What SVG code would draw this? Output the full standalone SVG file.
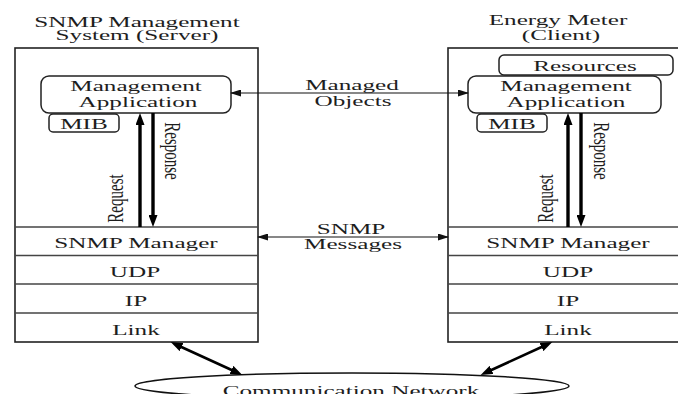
<svg xmlns="http://www.w3.org/2000/svg" width="678" height="394" viewBox="0 0 678 394">
  <defs>
    <style>
      .t { font-family: "Liberation Serif", "Times New Roman", serif; font-size: 15px; fill: #1e1e1e; text-anchor: middle; }
      .frame { fill: none; stroke: #222; stroke-width: 1.6; }
      .sep { stroke: #444; stroke-width: 1.4; }
      .rbox { fill: #fff; stroke: #222; stroke-width: 1.5; }
      .thin { stroke: #111; stroke-width: 1.1; fill: none; }
      .thick { stroke: #000; stroke-width: 3.4; fill: none; }
      .net { stroke: #000; stroke-width: 2.6; fill: none; }
    </style>
    <marker id="headThin" markerUnits="userSpaceOnUse" viewBox="0 0 11 7" markerWidth="11" markerHeight="7" refX="10" refY="3.5" orient="auto-start-reverse">
      <path d="M0,0 L11,3.5 L0,7 z" fill="#111"/>
    </marker>
    <marker id="headThick" markerUnits="userSpaceOnUse" viewBox="0 0 12 9" markerWidth="12" markerHeight="9" refX="6" refY="4.5" orient="auto-start-reverse">
      <path d="M0,0 L12,4.5 L0,9 z" fill="#000"/>
    </marker>
    <marker id="headNet" markerUnits="userSpaceOnUse" viewBox="0 0 12 9" markerWidth="12" markerHeight="9" refX="5" refY="4.5" orient="auto-start-reverse">
      <path d="M0,0 L12,4.5 L0,9 z" fill="#000"/>
    </marker>
  </defs>
  <rect width="678" height="394" fill="#fff"/>

  <!-- Server side: title and protocol stack -->
  <g id="server">
    <text class="t" transform="translate(137,27) scale(1.68,1)">SNMP Management</text>
    <text class="t" transform="translate(137,40) scale(1.68,1)">System (Server)</text>
    <rect class="frame" x="15" y="48" width="243" height="294"/>
    <line class="sep" x1="15" y1="227" x2="258" y2="227"/>
    <line class="sep" x1="15" y1="255.5" x2="258" y2="255.5"/>
    <line class="sep" x1="15" y1="284" x2="258" y2="284"/>
    <line class="sep" x1="15" y1="313" x2="258" y2="313"/>
  </g>
  <g id="server-app">
    <rect class="rbox" x="41" y="76" width="190" height="37" rx="8"/>
    <text class="t" transform="translate(136,91) scale(1.68,1)">Management</text>
    <text class="t" transform="translate(138,107) scale(1.68,1)">Application</text>
  </g>
  <g id="server-mib">
    <rect class="rbox" x="49" y="114" width="70" height="18" rx="4"/>
    <text class="t" transform="translate(84,128.5) scale(1.68,1)">MIB</text>
  </g>
  <g id="server-snmp-manager">
    <text class="t" transform="translate(136,248) scale(1.68,1)">SNMP Manager</text>
  </g>
  <g id="server-udp">
    <text class="t" transform="translate(135,277) scale(1.68,1)">UDP</text>
  </g>
  <g id="server-ip">
    <text class="t" transform="translate(136,306) scale(1.68,1)">IP</text>
  </g>
  <g id="server-link">
    <text class="t" transform="translate(136,334.5) scale(1.68,1)">Link</text>
  </g>

  <!-- Client side: title and protocol stack -->
  <g id="client">
    <text class="t" transform="translate(558,25) scale(1.68,1)">Energy Meter</text>
    <text class="t" transform="translate(561,40) scale(1.68,1)">(Client)</text>
    <rect class="frame" x="448" y="48" width="245" height="294"/>
    <line class="sep" x1="448" y1="227" x2="678" y2="227"/>
    <line class="sep" x1="448" y1="255.5" x2="678" y2="255.5"/>
    <line class="sep" x1="448" y1="284" x2="678" y2="284"/>
    <line class="sep" x1="448" y1="313" x2="678" y2="313"/>
  </g>
  <g id="client-resources">
    <rect class="rbox" x="499" y="55" width="174" height="20" rx="5"/>
    <text class="t" transform="translate(585,71) scale(1.68,1)">Resources</text>
  </g>
  <g id="client-app">
    <rect class="rbox" x="468" y="76" width="193" height="37" rx="8"/>
    <text class="t" transform="translate(566,91) scale(1.68,1)">Management</text>
    <text class="t" transform="translate(566,107) scale(1.68,1)">Application</text>
  </g>
  <g id="client-mib">
    <rect class="rbox" x="477" y="114" width="70" height="18" rx="4"/>
    <text class="t" transform="translate(512,128.5) scale(1.68,1)">MIB</text>
  </g>
  <g id="client-snmp-manager">
    <text class="t" transform="translate(568,248) scale(1.68,1)">SNMP Manager</text>
  </g>
  <g id="client-udp">
    <text class="t" transform="translate(568,277) scale(1.68,1)">UDP</text>
  </g>
  <g id="client-ip">
    <text class="t" transform="translate(568,306) scale(1.68,1)">IP</text>
  </g>
  <g id="client-link">
    <text class="t" transform="translate(568,334.5) scale(1.68,1)">Link</text>
  </g>

  <!-- Shared network -->
  <g id="network">
    <ellipse cx="352" cy="386" rx="217" ry="13" fill="#fff" stroke="#111" stroke-width="1.5"/>
    <text class="t" transform="translate(351,396) scale(1.68,1)">Communication Network</text>
  </g>

  <!-- Connectors -->
  <g id="connectors">
    <line class="thin" x1="231" y1="93" x2="468" y2="93" marker-start="url(#headThin)" marker-end="url(#headThin)"/>
    <line class="thin" x1="258" y1="237" x2="448" y2="237" marker-start="url(#headThin)" marker-end="url(#headThin)"/>

    <line class="thick" x1="140" y1="227" x2="140" y2="119" marker-end="url(#headThick)"/>
    <line class="thick" x1="153" y1="113" x2="153" y2="221" marker-end="url(#headThick)"/>
    <line class="thick" x1="568" y1="227" x2="568" y2="119" marker-end="url(#headThick)"/>
    <line class="thick" x1="581" y1="113" x2="581" y2="221" marker-end="url(#headThick)"/>

    <line class="net" x1="177" y1="345" x2="236" y2="372" marker-start="url(#headNet)" marker-end="url(#headNet)"/>
    <line class="net" x1="546" y1="345" x2="487" y2="372" marker-start="url(#headNet)" marker-end="url(#headNet)"/>
  </g>

  <!-- Labels along connectors -->
  <g id="labels">
    <text class="t" transform="translate(352,90) scale(1.68,1)">Managed</text>
    <text class="t" transform="translate(353,106) scale(1.68,1)">Objects</text>
    <text class="t" transform="translate(351,234) scale(1.68,1)">SNMP</text>
    <text class="t" transform="translate(353,249) scale(1.68,1)">Messages</text>
    <text class="t" transform="translate(123,198.5) scale(1.5,1) rotate(-90)">Request</text>
    <text class="t" transform="translate(165,151) scale(1.5,1) rotate(90)">Response</text>
    <text class="t" transform="translate(553,198.5) scale(1.5,1) rotate(-90)">Request</text>
    <text class="t" transform="translate(594,151) scale(1.5,1) rotate(90)">Response</text>
  </g>
</svg>
